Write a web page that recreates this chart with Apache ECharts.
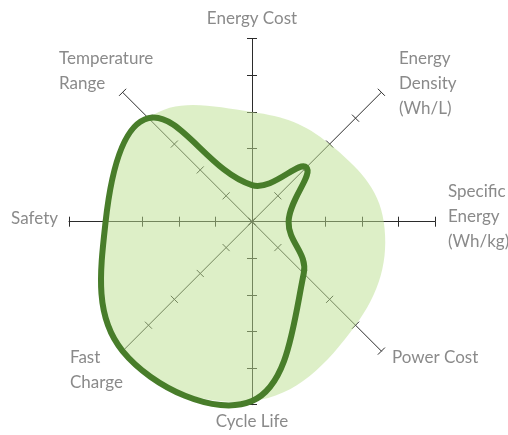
<!DOCTYPE html>
<html>
<head>
<meta charset="utf-8">
<script src="https://cdn.jsdelivr.net/npm/echarts@6/dist/echarts.min.js"></script>
<style>
html,body{margin:0;padding:0;background:#fff;}
#chart{width:508px;height:435px;}
</style>
</head>
<body>
<div id="chart"></div>
<script>
// Categories in clockwise order starting at the top
var categories = ['Energy Cost', 'Energy Density (Wh/L)', 'Specific Energy (Wh/kg)', 'Power Cost', 'Cycle Life', 'Fast Charge', 'Safety', 'Temperature Range'];
// Light filled profile
var fillValues = [3.0, 3.0, 3.6, 4.0, 4.9, 5.0, 4.0, 4.0];
// Dark outlined profile
var lineValues = [1.0, 2.1, 1.0, 2.0, 4.9, 5.0, 4.0, 4.0];
var axisMax = 5;
var tickCount = 5;

var CX = 252, CY = 221.7, R = 183;

// radar indicators go counter-clockwise in ECharts; reorder so the axes match
var radarIndicators = [0, 7, 6, 5, 4, 3, 2, 1].map(function (i) {
  return { name: categories[i], min: 0, max: axisMax };
});

function radarCfg(tickLen, showLine) {
  return {
    center: [CX, CY], radius: R, startAngle: 90, splitNumber: tickCount,
    indicator: radarIndicators,
    axisName: { show: false },
    axisLine: { show: showLine, lineStyle: { color: '#2b2b2b', width: 1 } },
    axisTick: { show: true, length: tickLen, lineStyle: { color: '#2b2b2b', width: 1 } },
    axisLabel: { show: false },
    splitLine: { show: false },
    splitArea: { show: false }
  };
}

var labelFont = '17px Lato';
var labelColor = '#8a8a8a';
function label(text, x, y, align) {
  return {
    type: 'text', x: x, y: y, silent: true,
    style: { text: text, font: labelFont, fill: labelColor, align: align, verticalAlign: 'top', lineHeight: 25 }
  };
}

var chart = echarts.init(document.getElementById('chart'), null, { renderer: 'canvas' });
chart.setOption({
  animation: false,
  radar: [radarCfg(5, true), radarCfg(-5, false)],
  polar: { center: [CX, CY], radius: R },
  angleAxis: { type: 'value', min: 0, max: 360, startAngle: 90, clockwise: true, show: false },
  radiusAxis: { type: 'value', min: 0, max: axisMax, show: false },
  graphic: [
    label('Energy Cost', 252, 6, 'center'),
    label('Energy\nDensity\n(Wh/L)', 399, 46.5, 'left'),
    label('Specific\nEnergy\n(Wh/kg)', 448, 179.5, 'left'),
    label('Power Cost', 392, 345.5, 'left'),
    label('Cycle Life', 252, 409, 'center'),
    label('Fast\nCharge', 70, 345.5, 'left'),
    label('Safety', 58, 206, 'right'),
    label('Temperature\nRange', 59, 46, 'left')
  ],
  series: [{
    type: 'custom',
    coordinateSystem: 'polar',
    silent: true,
    data: [[0, 0]],
    renderItem: function (params, api) {
      var n = categories.length;
      function pts(vals) {
        return vals.map(function (v, i) { return api.coord([v, i * 360 / n]); });
      }
      return {
        type: 'group',
        children: [
          { type: 'polygon', shape: { points: pts(fillValues), smooth: 0.4 },
            style: { fill: 'rgba(187,223,144,0.5)', stroke: 'none' } },
          { type: 'polygon', shape: { points: pts(lineValues), smooth: 0.4 },
            style: { fill: 'none', stroke: '#487d2a', lineWidth: 6 } }
        ]
      };
    }
  }]
});
</script>
</body>
</html>
